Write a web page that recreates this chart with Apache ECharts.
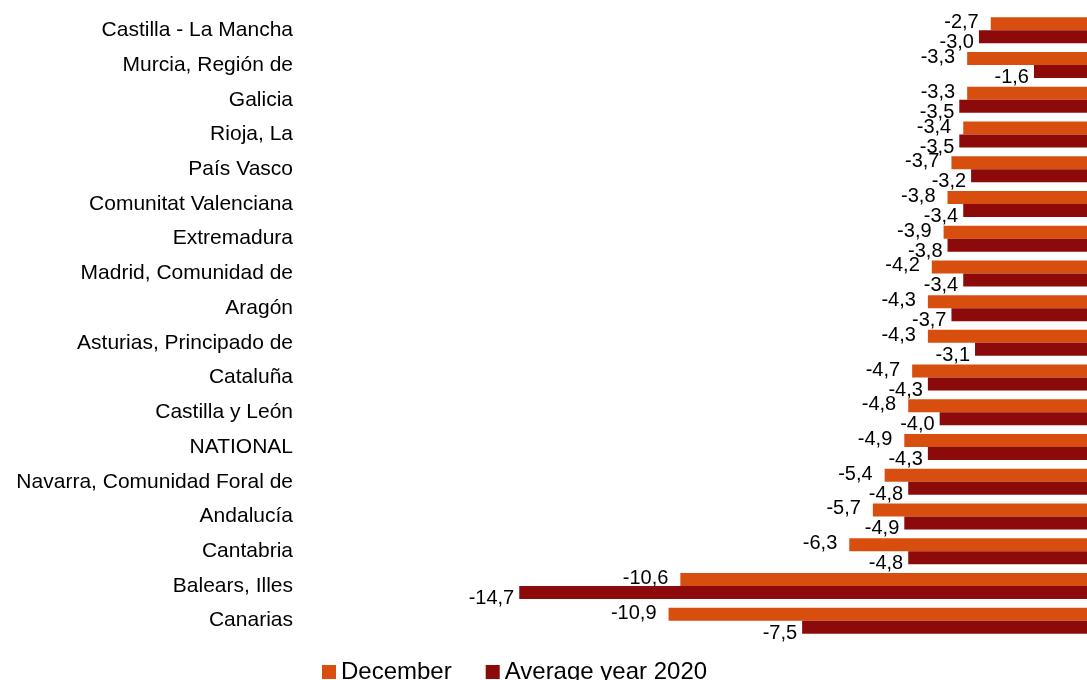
<!DOCTYPE html>
<html>
<head>
<meta charset="utf-8">
<script src="https://cdn.jsdelivr.net/npm/echarts@6/dist/echarts.min.js"></script>
<style>
  html, body { margin: 0; padding: 0; background: #fff; }
  #chart { width: 1087px; height: 680px; }
</style>
</head>
<body>
<div id="chart"></div>
<script>
const categories = [
  'Castilla - La Mancha', 'Murcia, Región de', 'Galicia', 'Rioja, La', 'País Vasco',
  'Comunitat Valenciana', 'Extremadura', 'Madrid, Comunidad de', 'Aragón',
  'Asturias, Principado de', 'Cataluña', 'Castilla y León', 'NATIONAL',
  'Navarra, Comunidad Foral de', 'Andalucía', 'Cantabria', 'Balears, Illes', 'Canarias'
];
const december = [-2.7, -3.3, -3.3, -3.4, -3.7, -3.8, -3.9, -4.2, -4.3, -4.3, -4.7, -4.8, -4.9, -5.4, -5.7, -6.3, -10.6, -10.9];
const average2020 = [-3.0, -1.6, -3.5, -3.5, -3.2, -3.4, -3.8, -3.4, -3.7, -3.1, -4.3, -4.0, -4.3, -4.8, -4.9, -4.8, -14.7, -7.5];
const seriesNames = ['December', 'Average year 2020'];

const font = '"Liberation Sans", Arial, sans-serif';
const fmt = p => p.value.toFixed(1).replace('.', ',');

const chart = echarts.init(document.getElementById('chart'), null, { renderer: 'canvas' });
chart.setOption({
  animation: false,
  backgroundColor: '#ffffff',
  textStyle: { fontFamily: font },
  legend: {
    data: seriesNames,
    left: 317,
    top: 655,
    itemWidth: 14,
    itemHeight: 14,
    itemGap: 34,
    icon: 'rect',
    textStyle: { fontFamily: font, fontSize: 24, color: '#000' }
  },
  grid: { left: 311, right: 0, top: 13, bottom: 42, containLabel: false },
  xAxis: {
    type: 'value',
    min: -20,
    max: -0.25,
    show: false
  },
  yAxis: {
    type: 'category',
    data: categories,
    inverse: true,
    axisLine: { show: false },
    axisTick: { show: false },
    splitLine: { show: false },
    axisLabel: { fontFamily: font, fontSize: 21, color: '#000', margin: 18 }
  },
  series: [
    {
      name: seriesNames[0],
      type: 'bar',
      data: december,
      barWidth: 13,
      barGap: '0%',
      clip: true,
      itemStyle: { color: '#D84E0E' },
      label: {
        show: true,
        position: 'left',
        distance: 12,
        offset: [0, -1],
        formatter: fmt,
        fontFamily: font,
        fontSize: 20,
        color: '#000'
      }
    },
    {
      name: seriesNames[1],
      type: 'bar',
      data: average2020,
      barWidth: 13,
      barGap: '0%',
      clip: true,
      itemStyle: { color: '#8C0A0A' },
      label: {
        show: true,
        position: 'left',
        distance: 5,
        offset: [0, 6],
        formatter: fmt,
        fontFamily: font,
        fontSize: 20,
        color: '#000'
      }
    }
  ]
});
</script>
</body>
</html>
